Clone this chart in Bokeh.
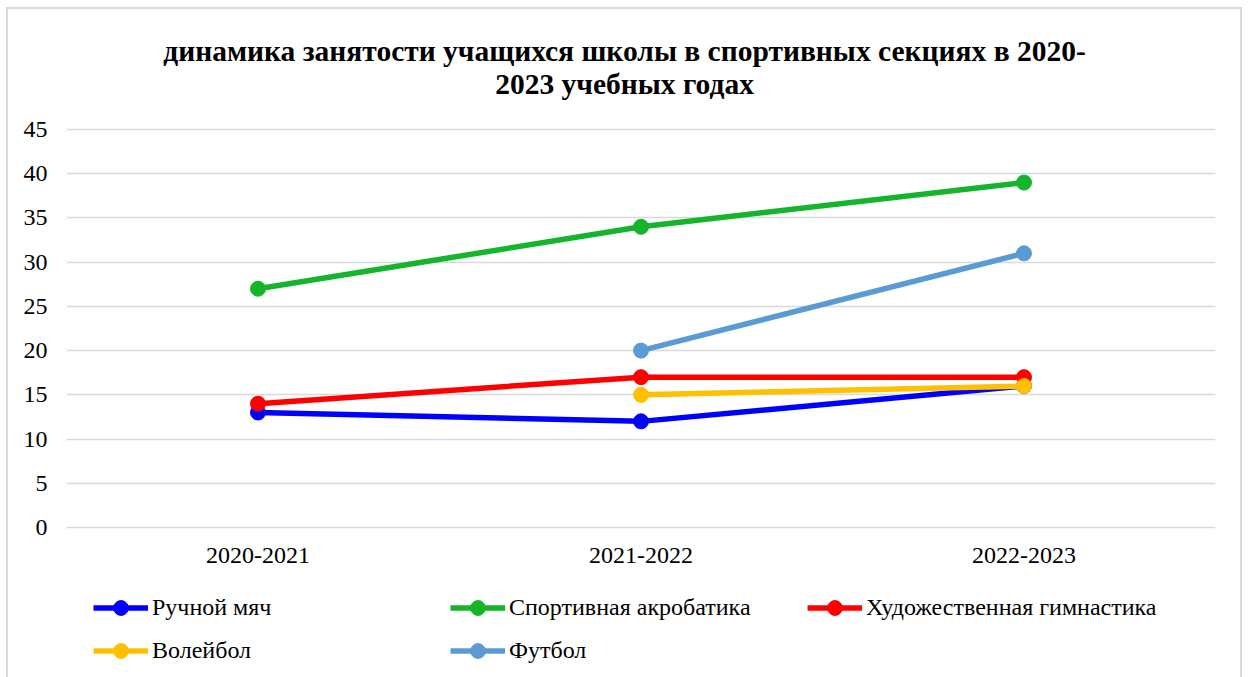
import numpy as np
from bokeh.plotting import figure
from bokeh.models import (Range1d, FactorRange, FixedTicker, Legend, LegendItem,
                          ColumnDataSource, Label)
from bokeh.embed import file_html
from bokeh.resources import INLINE

title_lines = ["динамика занятости учащихся школы в спортивных секциях в 2020-", "2023 учебных годах"]
years = ["2020-2021", "2021-2022", "2022-2023"]
y_ticks = [0, 5, 10, 15, 20, 25, 30, 35, 40, 45]

handball = [13, 12, 16]
acrobatics = [27, 34, 39]
gymnastics = [14, 17, 17]
volleyball = [np.nan, 15, 16]
football = [np.nan, 20, 31]

series_names = ["Ручной мяч", "Спортивная акробатика", "Художественная гимнастика", "Волейбол", "Футбол"]
series_values = [handball, acrobatics, gymnastics, volleyball, football]
series_colors = ["#0000FF", "#15B52B", "#FF0000", "#FFC000", "#5B9BD5"]
legend_order = [0, 3, 1, 4, 2]  # column-major fill: 3 columns x 2 rows

FONT = "Liberation Serif"

# layout: the plotting frame spans the whole height; value axis 0..45 occupies 398 px
PX_PER_UNIT = 398 / 45
FRAME_H = 668
ZERO_FROM_TOP = 518
y_end = ZERO_FROM_TOP / PX_PER_UNIT
y_start = -(FRAME_H - ZERO_FROM_TOP) / PX_PER_UNIT

p = figure(frame_width=1149, frame_height=FRAME_H, x_range=FactorRange(*years),
           y_range=Range1d(y_start, y_end),
           output_backend="svg", toolbar_location=None, title=None,
           min_border_left=58, min_border_right=25, min_border_top=0, min_border_bottom=0)
p.styles = {"margin-left": "6px", "margin-top": "7px",
            "border-left": "2px solid #d9d9d9", "border-top": "2px solid #d9d9d9",
            "border-right": "2px solid #d9d9d9"}

p.outline_line_color = None
p.xgrid.grid_line_color = None
p.ygrid.grid_line_color = "#d9d9d9"
p.ygrid.grid_line_width = 1.5
p.yaxis.ticker = FixedTicker(ticks=y_ticks)
p.xaxis.fixed_location = 0
for ax in (p.xaxis, p.yaxis):
    ax.axis_line_color = None
    ax.major_tick_line_color = None
    ax.minor_tick_line_color = None
    ax.major_label_text_font = FONT
    ax.major_label_text_font_size = "24px"
    ax.major_label_text_color = "#000000"
p.yaxis.major_label_standoff = 13
p.xaxis.major_label_standoff = 14

# two-line centred title
title_x = 1.457
for txt, ty in [(title_lines[0], 53.93), (title_lines[1], 50.2)]:
    p.add_layout(Label(x=title_x, y=ty, text=txt, text_font=FONT, text_font_size="29.5px",
                       text_font_style="bold", text_align="center", text_baseline="middle",
                       text_color="#000000"))

rends = []
for name, vals, col in zip(series_names, series_values, series_colors):
    src = ColumnDataSource(dict(x=years, y=vals))
    r1 = p.line("x", "y", source=src, line_color=col, line_width=5.5)
    r2 = p.scatter("x", "y", source=src, marker="circle", size=15, fill_color=col, line_color=col)
    rends.append((name, [r1, r2]))

items = [LegendItem(label=rends[i][0], renderers=rends[i][1]) for i in legend_order]
legend = Legend(items=items, nrows=2, orientation="vertical", location=(27, 8),
                glyph_width=55, glyph_height=37, label_height=37, label_width=292,
                label_standoff=4, spacing=6, margin=0, padding=0,
                label_text_font=FONT, label_text_font_size="24px", label_text_color="#000000",
                border_line_color=None, background_fill_alpha=0)
p.add_layout(legend, "center")

open("out.html", "w").write(file_html(p, INLINE))
